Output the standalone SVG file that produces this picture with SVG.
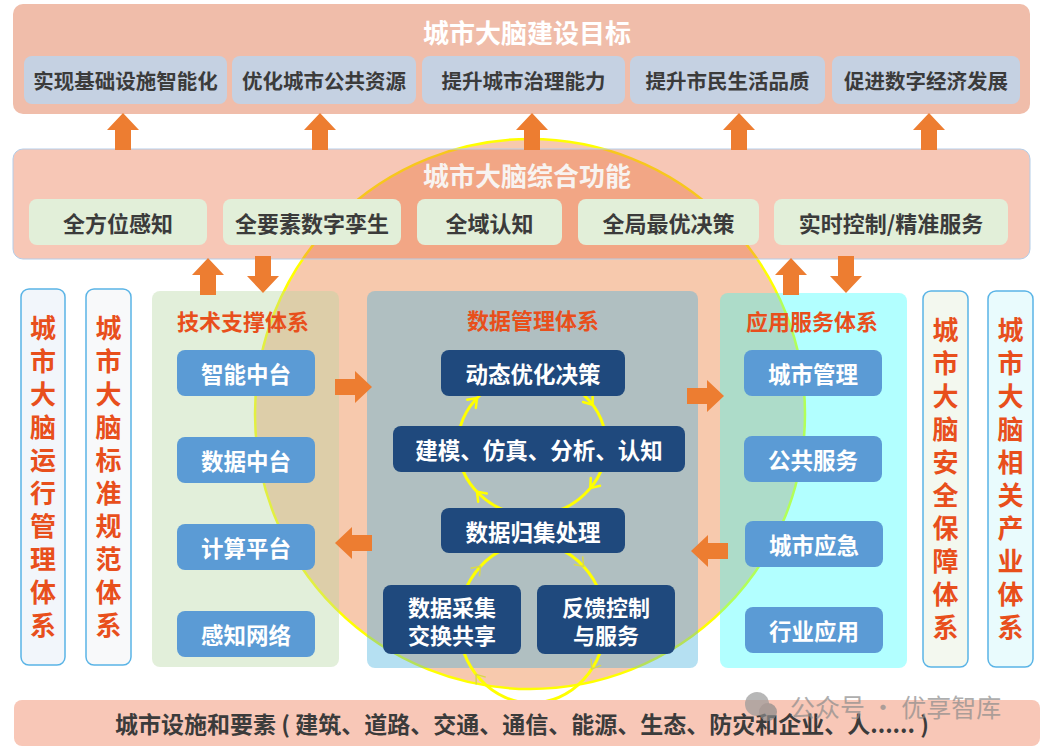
<svg xmlns="http://www.w3.org/2000/svg" width="1053" height="752" viewBox="0 0 1053 752">
<style>
text { font-family: "Noto Sans CJK SC", "Noto Sans", sans-serif; font-weight: 700; text-anchor: middle; dominant-baseline: central; }
.goal { fill: #c5d1e2; }
.dark { fill: #3b3b3b; }
.gt { font-size: 20.5px; }
.ft { font-size: 22px; }
.func { fill: #e2efd9; }
.title { fill: #ffffff; font-size: 26px; }
.colbox { stroke: #5ab4e6; stroke-width: 1.5; }
.colt { fill: #e84f1c; font-size: 26px; writing-mode: vertical-rl; letter-spacing: 7px; }
.ptitle { fill: #e84f1c; font-size: 22px; }
.bbox { fill: #5b9bd5; }
.dbox { fill: #1f497d; }
.wt { fill: #ffffff; font-size: 22.5px; }
.wt2 { fill: #ffffff; font-size: 22px; }
.arrow { fill: #ed7d31; }
.loop { fill: none; stroke: #ffff00; stroke-width: 3; }
.chev { fill: none; stroke: #ffff00; stroke-width: 2.5; stroke-linecap: round; stroke-linejoin: round; }
.chev2 { fill: none; stroke: #d9d94a; stroke-width: 1.5; }
</style>
<defs>
<path id="ar" d="M0,0 L16,17 L8,17 L8,37 L-8,37 L-8,17 L-16,17 Z"/>
<path id="cv" d="M-8,-6 L0,0 L-8,6"/>
</defs>

<g id="goals">
<rect x="13" y="4" width="1017" height="110" rx="10" fill="#f0bdaa"/>
<text class="title" x="527" y="31">城市大脑建设目标</text>
<rect class="goal" x="24" y="56" width="203" height="48" rx="8"/>
<text class="dark gt" x="125.5" y="80">实现基础设施智能化</text>
<rect class="goal" x="232" y="56" width="184" height="48" rx="8"/>
<text class="dark gt" x="324" y="80">优化城市公共资源</text>
<rect class="goal" x="422" y="56" width="203" height="48" rx="8"/>
<text class="dark gt" x="523.5" y="80">提升城市治理能力</text>
<rect class="goal" x="630" y="56" width="195" height="48" rx="8"/>
<text class="dark gt" x="727.5" y="80">提升市民生活品质</text>
<rect class="goal" x="832" y="56" width="188" height="48" rx="8"/>
<text class="dark gt" x="926" y="80">促进数字经济发展</text>
</g>

<g id="brain-circle">
<circle cx="530" cy="414" r="275" fill="#f7c9ad" stroke="#ffff00" stroke-width="2.5"/>
</g>

<g id="functions">
<rect x="13" y="149" width="1017" height="110" rx="10" fill="rgb(235,115,72)" fill-opacity="0.4" stroke="#b4cde8" stroke-width="1"/>
<text class="title" x="527" y="174" style="fill:#f8f3f0">城市大脑综合功能</text>
<rect class="func" x="29" y="199" width="178" height="46" rx="8"/>
<text class="dark ft" x="118" y="222">全方位感知</text>
<rect class="func" x="223" y="199" width="178" height="46" rx="8"/>
<text class="dark ft" x="312" y="222">全要素数字孪生</text>
<rect class="func" x="417" y="199" width="145" height="46" rx="8"/>
<text class="dark ft" x="489.5" y="222">全域认知</text>
<rect class="func" x="578" y="199" width="181" height="46" rx="8"/>
<text class="dark ft" x="668.5" y="222">全局最优决策</text>
<rect class="func" x="774" y="199" width="234" height="46" rx="8"/>
<text class="dark ft" x="891" y="222">实时控制/精准服务</text>
</g>

<g id="col-operation">
<rect class="colbox" x="21" y="289" width="44" height="376" rx="8" fill="#f2f6fb"/>
<text class="colt" x="43" y="480">城市大脑运行管理体系</text>
</g>
<g id="col-standard">
<rect class="colbox" x="86" y="289" width="45" height="376" rx="8" fill="#f8f9fa"/>
<text class="colt" x="108.5" y="480">城市大脑标准规范体系</text>
</g>
<g id="col-security">
<rect class="colbox" x="923" y="291" width="45" height="376" rx="8" fill="#f3f8ef"/>
<text class="colt" x="945.5" y="482">城市大脑安全保障体系</text>
</g>
<g id="col-industry">
<rect class="colbox" x="988" y="291" width="45" height="376" rx="8" fill="#e9fbfd"/>
<text class="colt" x="1010.5" y="482">城市大脑相关产业体系</text>
</g>

<g id="tech-panel">
<rect x="152" y="291" width="187" height="376" rx="8" fill="rgb(182,215,162)" fill-opacity="0.4"/>
<text class="ptitle" x="243" y="320">技术支撑体系</text>
<rect class="bbox" x="177" y="350" width="138" height="46" rx="8"/>
<text class="wt" x="246" y="373">智能中台</text>
<rect class="bbox" x="177" y="437" width="138" height="46" rx="8"/>
<text class="wt" x="246" y="460">数据中台</text>
<rect class="bbox" x="177" y="524" width="138" height="46" rx="8"/>
<text class="wt" x="246" y="547">计算平台</text>
<rect class="bbox" x="177" y="611" width="138" height="46" rx="8"/>
<text class="wt" x="246" y="634">感知网络</text>
</g>

<g id="data-panel">
<rect x="367" y="291" width="331" height="377" rx="8" fill="rgb(70,177,222)" fill-opacity="0.4"/>
<text class="ptitle" x="533" y="319">数据管理体系</text>
</g>

<g id="app-panel">
<rect x="720" y="293" width="187" height="375" rx="8" fill="rgb(35,255,255)" fill-opacity="0.35"/>
<text class="ptitle" x="812" y="320">应用服务体系</text>
<rect class="bbox" x="744" y="350" width="138" height="46" rx="8"/>
<text class="wt" x="813" y="373">城市管理</text>
<rect class="bbox" x="744" y="436" width="138" height="46" rx="8"/>
<text class="wt" x="813" y="459">公共服务</text>
<rect class="bbox" x="745" y="521" width="138" height="46" rx="8"/>
<text class="wt" x="814" y="544">城市应急</text>
<rect class="bbox" x="745" y="607" width="138" height="46" rx="8"/>
<text class="wt" x="814" y="630">行业应用</text>
</g>

<g id="connectors">
<ellipse class="loop" cx="532" cy="445" rx="74" ry="70"/>
<ellipse class="loop" cx="532" cy="623" rx="73" ry="80"/>
<use href="#cv" class="chev" transform="translate(477,398) rotate(-46.4)"/>
<use href="#cv" class="chev" transform="translate(592.6,404.8) rotate(53.4)"/>
<use href="#cv" class="chev" transform="translate(590.3,488.1) rotate(129.6)"/>
<use href="#cv" class="chev" transform="translate(477,491.8) rotate(226.4)"/>
<use href="#cv" class="chev2" transform="translate(480.4,566.4) rotate(-47.6)"/>
<use href="#cv" class="chev2" transform="translate(583.6,566.4) rotate(47.6)"/>
<use href="#cv" class="chev2" transform="translate(591.8,668.9) rotate(122.6)"/>
<use href="#cv" class="chev2" transform="translate(476.1,674.4) rotate(232.6)"/>

<use href="#ar" class="arrow" transform="translate(123,113)"/>
<use href="#ar" class="arrow" transform="translate(320,113)"/>
<use href="#ar" class="arrow" transform="translate(532,113)"/>
<use href="#ar" class="arrow" transform="translate(739,113)"/>
<use href="#ar" class="arrow" transform="translate(929,113)"/>
<use href="#ar" class="arrow" transform="translate(208,258)"/>
<use href="#ar" class="arrow" transform="translate(263,293) rotate(180)"/>
<use href="#ar" class="arrow" transform="translate(791,258)"/>
<use href="#ar" class="arrow" transform="translate(846,293) rotate(180)"/>
<use href="#ar" class="arrow" transform="translate(372,387) rotate(90)"/>
<use href="#ar" class="arrow" transform="translate(335,543) rotate(-90)"/>
<use href="#ar" class="arrow" transform="translate(724,396) rotate(90)"/>
<use href="#ar" class="arrow" transform="translate(691,551) rotate(-90)"/>
</g>

<g id="decision">
<rect class="dbox" x="441" y="350" width="184" height="46" rx="8"/>
<text class="wt" x="533" y="373">动态优化决策</text>
</g>
<g id="modeling">
<rect class="dbox" x="393" y="426" width="292" height="46" rx="8"/>
<text class="wt" x="539" y="449">建模、仿真、分析、认知</text>
</g>
<g id="collect-process">
<rect class="dbox" x="441" y="508" width="184" height="45" rx="8"/>
<text class="wt" x="533" y="530.5">数据归集处理</text>
</g>
<g id="collect-share">
<rect class="dbox" x="383" y="585" width="138" height="69" rx="8"/>
<text class="wt2" x="452" y="606">数据采集</text>
<text class="wt2" x="452" y="634">交换共享</text>
</g>
<g id="feedback">
<rect class="dbox" x="537" y="585" width="138" height="69" rx="8"/>
<text class="wt2" x="606" y="606">反馈控制</text>
<text class="wt2" x="606" y="634">与服务</text>
</g>

<g id="infrastructure">
<rect x="14" y="700" width="1026" height="46" rx="8" fill="#f8c7b7"/>
<text class="dark" x="522" y="723" style="font-size:23px">城市设施和要素 ( 建筑、道路、交通、通信、能源、生态、防灾和企业、人...... )</text>
</g>

<g id="watermark" opacity="0.7">
<circle cx="757" cy="704" r="12" fill="#9a9a9a"/>
<circle cx="768" cy="712" r="9" fill="#8a8a8a"/>
<text x="790" y="706" style="font-size:25px;font-weight:400;fill:#8c8c8c;text-anchor:start">公众号 · 优享智库</text>
</g>
</svg>
